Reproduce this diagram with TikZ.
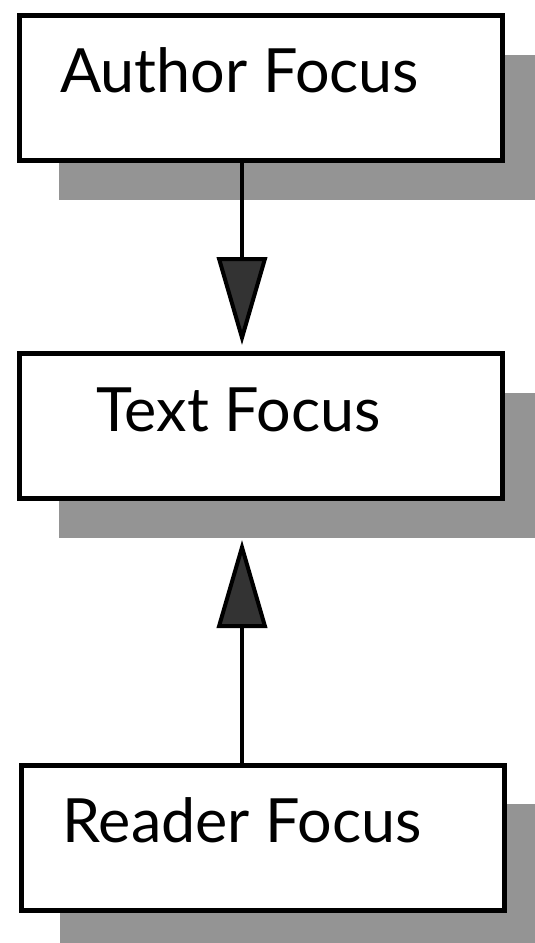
\documentclass[tikz,border=0pt]{standalone}
\usepackage{fontspec}
\setmainfont{Lato}
\usetikzlibrary{arrows.meta,shadows}
\definecolor{shadowgray}{gray}{0.58}
\definecolor{headgray}{gray}{0.2}

\begin{document}
\begin{tikzpicture}[
  x=1pt, y=-1pt,
  focusbox/.style={draw, line width=5pt, fill=white, minimum width=483pt,
                   minimum height=145pt, inner sep=0pt,
                   drop shadow={shadow xshift=39pt, shadow yshift=-39pt,
                                fill=shadowgray, opacity=1}},
  lbl/.style={anchor=base west, inner sep=0pt, font=\fontsize{61}{64}\selectfont},
  arr/.style={-{Triangle[width=50pt,length=88pt,fill=headgray]}, line width=4pt}
]
\useasboundingbox (0,0) rectangle (535,943);

\node[focusbox] (author) at (261,88) {};
\node[focusbox] (text) at (261,426) {};
\node[focusbox] (reader) at (262.5,837.5) {};

\node[lbl] (authorlbl) at ([xshift=43pt,yshift=-79pt]author.north west) {Author Focus};
\node[lbl] (textlbl) at ([xshift=79pt,yshift=-80pt]text.north west) {Text Focus};
\node[lbl] (readerlbl) at ([xshift=44pt,yshift=-80pt]reader.north west) {Reader Focus};

\draw[arr] ([xshift=-19pt]author.south) -- ([xshift=-19pt,yshift=6pt]text.north);
\draw[arr] ([xshift=-20.5pt]reader.north) -- ([xshift=-19pt,yshift=-39pt]text.south);
\end{tikzpicture}
\end{document}
